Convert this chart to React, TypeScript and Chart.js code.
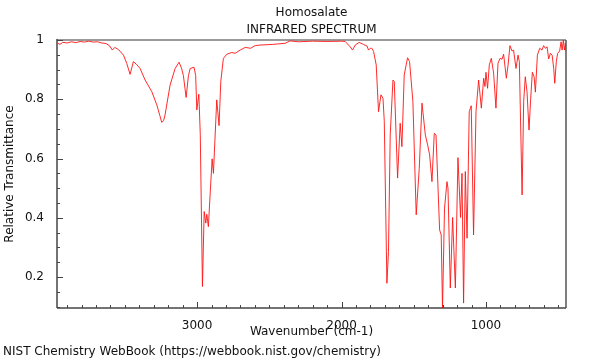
import React, { useEffect, useRef } from 'react';
import { Chart, registerables } from 'chart.js';

Chart.register(...registerables);

const TITLE_LINES = ['Homosalate', 'INFRARED SPECTRUM'];
const X_LABEL = 'Wavenumber (cm-1)';
const Y_LABEL = 'Relative Transmittance';
const FOOTER = 'NIST Chemistry WebBook (https://webbook.nist.gov/chemistry)';

const X_TICKS = [1000, 2000, 3000];
const Y_TICKS = [0.2, 0.4, 0.6, 0.8, 1];
const X_RANGE = [446, 3970];
const Y_RANGE = [0.0955, 1.0];

const WAVENUMBERS = [
  3966, 3950, 3930, 3900, 3870, 3840, 3810, 3780, 3750, 3720, 3690, 3660, 3630, 3605,
  3587, 3570, 3545, 3510, 3487, 3464, 3441, 3420, 3395, 3360, 3314, 3279, 3258, 3245,
  3232, 3222, 3187, 3152, 3125, 3108, 3095, 3076, 3060, 3048, 3021, 3010, 3002, 2988,
  2978, 2963, 2951, 2940, 2933, 2922, 2910, 2896, 2887, 2864, 2848, 2836, 2818, 2794,
  2760, 2737, 2702, 2667, 2630, 2598, 2564, 2480, 2390, 2356, 2300, 2200, 2100, 2000,
  1975, 1940, 1924, 1905, 1878, 1848, 1824, 1813, 1801, 1790, 1778, 1760, 1744, 1727,
  1713, 1704, 1686, 1675, 1663, 1644, 1635, 1612, 1594, 1582, 1566, 1543, 1529, 1506,
  1483, 1462, 1443, 1420, 1404, 1390, 1374, 1358, 1346, 1321, 1310, 1301, 1287, 1270,
  1263, 1247, 1231, 1212, 1194, 1176, 1166, 1155, 1143, 1131, 1116, 1102, 1086, 1069,
  1051, 1032, 1016, 1007, 1000, 989, 977, 963, 947, 931, 917, 903, 889, 878, 859, 847,
  834, 820, 809, 792, 778, 769, 750, 739, 728, 716, 702, 691, 679, 667, 658, 644, 628,
  612, 601, 589, 577, 566, 554, 542, 531, 524, 513, 504, 490, 480, 473, 464, 457, 450,
  446,
];

const TRANSMITTANCE = [
  0.990, 0.985, 0.992, 0.990, 0.994, 0.991, 0.995, 0.993, 0.996, 0.993, 0.994, 0.990, 0.988, 0.980,
  0.966, 0.975, 0.968, 0.949, 0.921, 0.884, 0.927, 0.918, 0.904, 0.865, 0.826, 0.781, 0.745, 0.722,
  0.728, 0.747, 0.848, 0.904, 0.925, 0.905, 0.880, 0.806, 0.880, 0.904, 0.908, 0.880, 0.764, 0.817,
  0.680, 0.168, 0.421, 0.382, 0.412, 0.370, 0.477, 0.599, 0.550, 0.798, 0.711, 0.860, 0.938, 0.952,
  0.958, 0.955, 0.966, 0.975, 0.972, 0.981, 0.983, 0.985, 0.989, 0.997, 0.994, 0.996, 0.995, 0.996,
  0.995, 0.977, 0.966, 0.983, 0.992, 0.985, 0.980, 0.966, 0.972, 0.972, 0.961, 0.916, 0.758, 0.815,
  0.803, 0.725, 0.179, 0.286, 0.680, 0.865, 0.860, 0.534, 0.719, 0.640, 0.882, 0.940, 0.927, 0.792,
  0.410, 0.567, 0.787, 0.680, 0.646, 0.612, 0.522, 0.685, 0.680, 0.359, 0.342, 0.095, 0.432, 0.522,
  0.500, 0.163, 0.401, 0.163, 0.603, 0.401, 0.550, 0.112, 0.556, 0.331, 0.758, 0.778, 0.342, 0.758,
  0.865, 0.770, 0.871, 0.843, 0.891, 0.837, 0.916, 0.938, 0.888, 0.770, 0.921, 0.938, 0.935, 0.952, 0.871, 0.916,
  0.981, 0.963, 0.966, 0.904, 0.949, 0.927, 0.477, 0.792, 0.876, 0.826, 0.696, 0.798, 0.891, 0.876, 0.824, 0.949, 0.972,
  0.966, 0.981, 0.972, 0.977, 0.936, 0.955, 0.949, 0.904, 0.854, 0.927, 0.955, 0.963, 0.994, 0.966, 1.0, 0.966, 0.989,
  0.961,
];

const FONT = 'DejaVu Sans';
const TEXT_COLOR = '#111';

const framePlugin = {
  id: 'irFrame',
  beforeDatasetsDraw(chart: any) {
    const { ctx, chartArea, scales } = chart;
    const { left, right, top, bottom } = chartArea;
    const xs = scales.x;
    const ys = scales.y;
    ctx.save();
    const seg = (x1: number, y1: number, x2: number, y2: number) => {
      ctx.beginPath();
      ctx.moveTo(x1, y1);
      ctx.lineTo(x2, y2);
      ctx.stroke();
    };
    // top border
    ctx.strokeStyle = '#9a9a9a';
    ctx.lineWidth = 2;
    seg(left, top, right, top);
    // right border
    ctx.strokeStyle = '#555';
    ctx.lineWidth = 1.5;
    seg(right, top, right, bottom);
    // left and bottom axes
    ctx.strokeStyle = '#444';
    ctx.lineWidth = 1.5;
    seg(left, top - 1, left, bottom);
    seg(left, bottom, right, bottom);
    // inward ticks
    ctx.lineWidth = 1;
    for (let v = 500; v <= 3900; v += 100) {
      if (v < xs.min || v > xs.max) continue;
      const px = Math.round(xs.getPixelForValue(v)) + 0.5;
      const len = v % 1000 === 0 ? 6 : 3;
      seg(px, bottom, px, bottom - len);
    }
    for (let k = 2; k <= 20; k++) {
      const v = k * 0.05;
      if (v < ys.min || v > ys.max) continue;
      const py = Math.round(ys.getPixelForValue(v)) + 0.5;
      const major = k % 4 === 0;
      const len = major ? 6 : 3;
      seg(left, py, left + len, py);
    }
    ctx.restore();
  },
};

export default function App() {
  const ref = useRef<HTMLCanvasElement | null>(null);

  useEffect(() => {
    if (!ref.current) return;
    Chart.defaults.font.family = FONT;
    Chart.defaults.color = TEXT_COLOR;
    const points = WAVENUMBERS.map((w, i) => ({ x: w, y: TRANSMITTANCE[i] }));
    const chart = new Chart(ref.current, {
      type: 'line',
      data: {
        datasets: [
          {
            data: points,
            borderColor: 'rgba(255,20,20,0.9)',
            borderWidth: 1,
            pointRadius: 0,
            tension: 0,
            fill: false,
          },
        ],
      },
      options: {
        responsive: false,
        animation: false,
        events: [],
        layout: { padding: { left: 3, right: 34, top: 0, bottom: 0 } },
        plugins: {
          legend: { display: false },
          tooltip: { enabled: false },
          title: {
            display: true,
            text: TITLE_LINES,
            fullSize: false,
            color: TEXT_COLOR,
            font: { family: FONT, size: 12, weight: 'normal', lineHeight: 1.4 },
            padding: { top: 4.6, bottom: 1.8 },
          },
          subtitle: {
            display: true,
            text: FOOTER,
            position: 'bottom',
            align: 'start',
            color: TEXT_COLOR,
            font: { family: FONT, size: 12, weight: 'normal', lineHeight: 1.2 },
            padding: { top: 0, bottom: 0.8 },
          },
        },
        scales: {
          x: {
            type: 'linear',
            reverse: true,
            min: X_RANGE[0],
            max: X_RANGE[1],
            grid: { display: false },
            border: { display: false },
            afterBuildTicks: (scale: any) => {
              scale.ticks = X_TICKS.map((v) => ({ value: v }));
            },
            afterFit: (scale: any) => {
              scale.height = 36.8;
            },
            ticks: {
              padding: 3,
              maxRotation: 0,
              color: TEXT_COLOR,
              font: { family: FONT, size: 12 },
              callback: (v: any) => String(v),
            },
            title: {
              display: true,
              text: X_LABEL,
              color: TEXT_COLOR,
              font: { family: FONT, size: 12, lineHeight: 1.2 },
              padding: { top: 0, bottom: 5.6 },
            },
          },
          y: {
            type: 'linear',
            min: Y_RANGE[0],
            max: Y_RANGE[1],
            grid: { display: false },
            border: { display: false },
            afterBuildTicks: (scale: any) => {
              scale.ticks = Y_TICKS.map((v) => ({ value: v }));
            },
            afterFit: (scale: any) => {
              scale.width = 54;
            },
            ticks: {
              padding: 5,
              color: TEXT_COLOR,
              font: { family: FONT, size: 12 },
              callback: (v: any) => (Number(v) === 1 ? '1' : Number(v).toFixed(1)),
            },
            title: {
              display: true,
              text: Y_LABEL,
              color: TEXT_COLOR,
              font: { family: FONT, size: 12, lineHeight: 1.2 },
              padding: { top: 0, bottom: 0 },
            },
          },
        },
      },
      plugins: [framePlugin],
    });
    return () => chart.destroy();
  }, []);

  return (
    <div style={{ position: 'absolute', left: 0, top: 0, width: 600, height: 360, background: '#fff' }}>
      <canvas ref={ref} width={600} height={360} style={{ display: 'block' }} />
    </div>
  );
}
